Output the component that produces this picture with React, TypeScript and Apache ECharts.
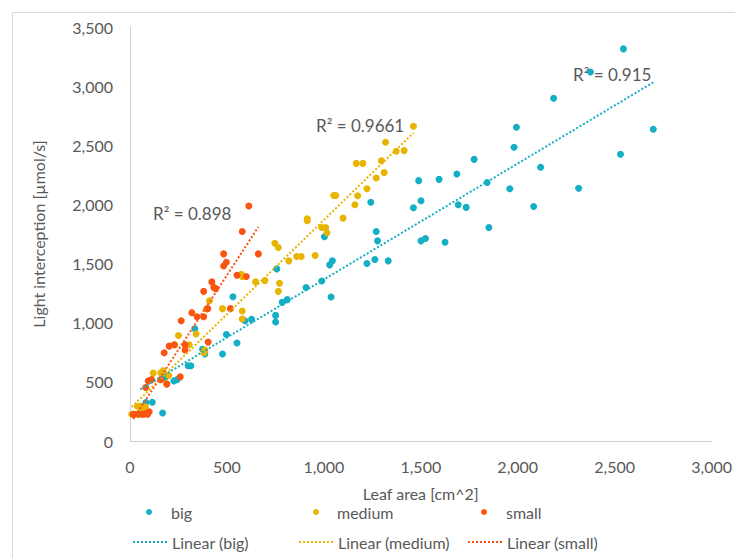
import React, { useEffect, useRef } from "react";
import * as echarts from "echarts";

// Leaf area [cm^2], Light interception [µmol/s]
const bigData: number[][] = [
  [53, 294], [82, 325], [115, 328], [168, 237], [180, 536], [226, 508], [243, 519],
  [300, 636], [314, 636], [334, 949], [374, 775], [386, 735], [477, 735], [497, 901],
  [531, 1220], [552, 828], [593, 1017], [627, 1028], [751, 1062], [751, 1006],
  [757, 1455], [785, 1172], [811, 1195], [908, 1297], [989, 1353], [1003, 1726],
  [1030, 1489], [1044, 1523], [1037, 1218], [1222, 1500], [1242, 2019], [1263, 1534],
  [1270, 1771], [1277, 1692], [1332, 1523], [1462, 1972], [1489, 2201], [1501, 2031],
  [1501, 1692], [1524, 1712], [1594, 2212], [1625, 1681], [1686, 2257], [1693, 1997],
  [1734, 1975], [1775, 2381], [1842, 2186], [1851, 1805], [1959, 2133], [1981, 2483],
  [1993, 2653], [2082, 1983], [2118, 2314], [2185, 2898], [2314, 2136], [2375, 3119],
  [2530, 2424], [2545, 3315], [2699, 2636],
];

const mediumData: number[][] = [
  [9, 226], [17, 226], [43, 226], [45, 230], [38, 294], [57, 294], [79, 290], [58, 260],
  [120, 574], [159, 576], [171, 593], [189, 486], [200, 553], [250, 892], [305, 814],
  [231, 814], [341, 905], [382, 746], [386, 769], [394, 1116], [410, 1186], [477, 1119],
  [579, 1099], [579, 1031], [574, 1409], [579, 1390], [648, 1345], [696, 1356],
  [747, 1672], [765, 1636], [771, 1333], [765, 1265], [819, 1523], [860, 1559],
  [883, 1559], [955, 1568], [914, 1879], [914, 1862], [989, 1805], [1009, 1805],
  [1016, 1760], [1051, 2076], [1061, 2076], [1099, 1884], [1160, 1997], [1174, 2073],
  [1167, 2347], [1201, 2347], [1222, 2133], [1270, 2223], [1297, 2370], [1311, 2269],
  [1318, 2525], [1373, 2449], [1414, 2455], [1462, 2661],
];

const smallData: number[][] = [
  [17, 226], [24, 226], [43, 226], [63, 226], [72, 226], [91, 226], [99, 248], [86, 237],
  [81, 452], [94, 508], [111, 519], [159, 519], [190, 480], [259, 542], [176, 746],
  [202, 802], [228, 814], [284, 814], [284, 769], [403, 836], [264, 1017], [319, 1085],
  [346, 1051], [380, 1051], [401, 1119], [518, 1119], [380, 1265], [422, 1345],
  [432, 1299], [442, 1288], [483, 1480], [497, 1511], [483, 1582], [552, 1401],
  [600, 1390], [662, 1582], [579, 1771], [613, 1986],
];

const seriesNames = ["big", "medium", "small"];
const trendNames = ["Linear (big)", "Linear (medium)", "Linear (small)"];
const r2Labels = ["R² = 0.915", "R² = 0.9661", "R² = 0.898"];
const colors = ["#14AFC4", "#E7B400", "#FA5412"];

const FONT = "Lato";
const GREY = "#595959";

function linearFit(points: number[][]): number[][] {
  const n = points.length;
  let sx = 0, sy = 0, sxx = 0, sxy = 0;
  for (const [x, y] of points) {
    sx += x; sy += y; sxx += x * x; sxy += x * y;
  }
  const slope = (n * sxy - sx * sy) / (n * sxx - sx * sx);
  const intercept = (sy - slope * sx) / n;
  const xs = points.map((p) => p[0]);
  const x0 = Math.min(...xs);
  const x1 = Math.max(...xs);
  return [
    [x0, intercept + slope * x0],
    [x1, intercept + slope * x1],
  ];
}

export default function App() {
  const ref = useRef<HTMLDivElement>(null);

  useEffect(() => {
    if (!ref.current) return;
    const chart = echarts.init(ref.current, null, { renderer: "svg" });
    const datasets = [bigData, mediumData, smallData];

    const scatterSeries = datasets.map((d, i) => ({
      name: seriesNames[i],
      type: "scatter",
      data: d,
      symbol: "circle",
      symbolSize: 7,
      itemStyle: { color: colors[i], opacity: 1 },
      z: 3,
    }));

    const trendSeries = datasets.map((d, i) => ({
      name: trendNames[i],
      type: "line",
      data: linearFit(d),
      symbol: "none",
      showSymbol: false,
      lineStyle: { color: colors[i], width: 2, type: [2, 2] },
      itemStyle: { color: colors[i] },
      z: 4,
    }));

    const fmt = (v: number) => v.toLocaleString("en-US");

    const markerCenters = [149, 316, 484];
    const textStarts = [171, 337, 506];
    const legends: any[] = [];
    seriesNames.forEach((name, i) => {
      legends.push({
        data: [{ name, icon: "circle" }],
        left: markerCenters[i] - 3,
        top: 504,
        padding: 0,
        itemWidth: 6,
        itemHeight: 6,
        textStyle: {
          color: GREY,
          fontFamily: FONT,
          fontSize: 16,
          padding: [0, 0, 0, textStarts[i] - (markerCenters[i] - 3) - 6 - 5],
        },
        selectedMode: false,
      });
    });
    trendNames.forEach((name, i) => {
      legends.push({
        data: [{ name, itemStyle: { opacity: 0 } }],
        left: textStarts[i] - 5 - 34,
        top: 534,
        padding: 0,
        itemWidth: 34,
        itemHeight: 10,
        itemStyle: { opacity: 0 },
        textStyle: { color: GREY, fontFamily: FONT, fontSize: 16 },
        selectedMode: false,
      });
    });

    chart.setOption({
      animation: false,
      backgroundColor: "#ffffff",
      textStyle: { fontFamily: FONT },
      grid: { left: 130, right: 22, top: 27, bottom: 117, containLabel: false },
      legend: legends,
      xAxis: {
        type: "value",
        min: 0,
        max: 3000,
        interval: 500,
        name: "Leaf area [cm^2]",
        nameLocation: "middle",
        nameGap: 44,
        nameTextStyle: { color: GREY, fontFamily: FONT, fontSize: 16 },
        axisLine: { show: true, lineStyle: { color: "#D0D0D0", width: 1 } },
        axisTick: { show: false },
        splitLine: { show: false },
        axisLabel: { color: GREY, fontFamily: FONT, fontSize: 16, margin: 17, formatter: fmt },
      },
      yAxis: {
        type: "value",
        min: 0,
        max: 3500,
        interval: 500,
        name: "Light interception [µmol/s]",
        nameLocation: "middle",
        nameGap: 84,
        nameTextStyle: { color: GREY, fontFamily: FONT, fontSize: 16 },
        axisLine: { show: true, lineStyle: { color: "#D0D0D0", width: 1 } },
        axisTick: { show: false },
        splitLine: { show: false },
        axisLabel: { color: GREY, fontFamily: FONT, fontSize: 16, margin: 17, formatter: fmt },
      },
      graphic: [
        {
          type: "rect",
          shape: { x: 12.5, y: 12.5, width: 800, height: 700 },
          style: { fill: "none", stroke: "#D9D9D9", lineWidth: 1 },
          silent: true,
          z: -10,
        },
        {
          type: "text",
          x: 573,
          y: 74,
          style: { text: r2Labels[0], fill: GREY, font: `17px ${FONT}`, verticalAlign: "middle" },
        },
        {
          type: "text",
          x: 316,
          y: 125,
          style: { text: r2Labels[1], fill: GREY, font: `17px ${FONT}`, verticalAlign: "middle" },
        },
        {
          type: "text",
          x: 153,
          y: 213,
          style: { text: r2Labels[2], fill: GREY, font: `17px ${FONT}`, verticalAlign: "middle" },
        },
      ],
      series: [...trendSeries, ...scatterSeries],
    });

    return () => chart.dispose();
  }, []);

  return <div ref={ref} style={{ width: 735, height: 558, position: "absolute", left: 0, top: 0 }} />;
}
